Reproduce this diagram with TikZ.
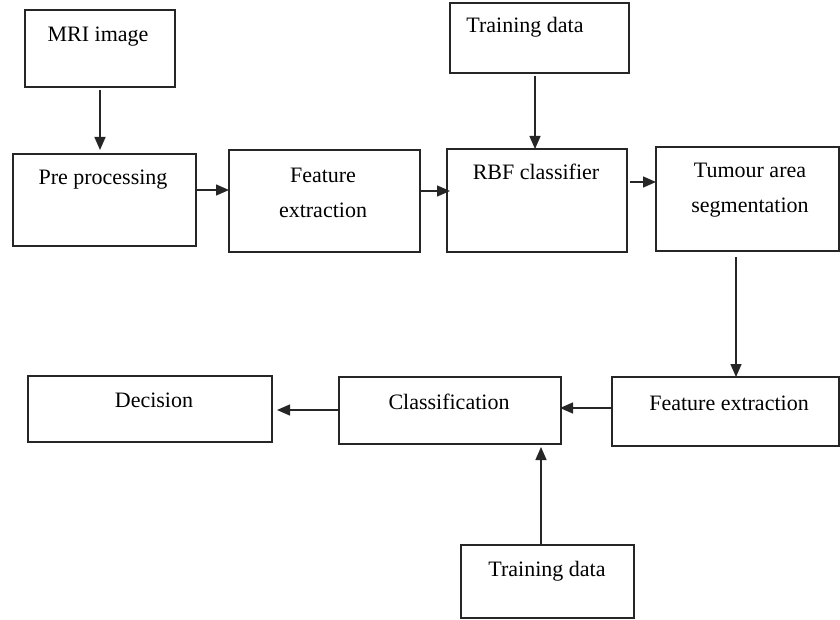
\documentclass[tikz,border=0pt]{standalone}
\usepackage{fontspec}
\setmainfont{Liberation Serif}
\usetikzlibrary{arrows.meta}
\begin{document}
\begin{tikzpicture}[x=0.5pt,y=-0.5pt,
  box/.style={draw=black!85, line width=0.9pt, rectangle, inner sep=0pt, outer sep=0pt},
  lbl/.style={anchor=base, inner sep=0pt, font=\fontsize{11}{13}\selectfont},
  arr/.style={draw=black!85, line width=0.7pt, -{Triangle[length=6.5pt,width=5.5pt]}}]
\useasboundingbox (0,0) rectangle (840,620);
% boxes
\node[box, minimum width=75pt, minimum height=38.5pt] (mri) at (100,48.5) {};
\node[box, minimum width=91.5pt, minimum height=46pt] (pre) at (104.5,200) {};
\node[box, minimum width=95.5pt, minimum height=51pt] (feat) at (324.5,201) {};
\node[box, minimum width=89.5pt, minimum height=35pt] (trainA) at (539.5,38) {};
\node[box, minimum width=90pt, minimum height=51.5pt] (rbf) at (537,200.5) {};
\node[box, minimum width=91.5pt, minimum height=52pt] (tum) at (747.5,199) {};
\node[box, minimum width=122pt, minimum height=33pt] (dec) at (150,409) {};
\node[box, minimum width=111pt, minimum height=33.5pt] (cls) at (450,410.5) {};
\node[box, minimum width=113.5pt, minimum height=34.5pt] (feB) at (725.5,411.5) {};
\node[box, minimum width=86.5pt, minimum height=36.5pt] (trainB) at (547.5,581.5) {};
% texts
\node[lbl] (tmri) at (98,42) {MRI image};
\node[lbl] (tpre) at (103,185) {Pre processing};
\node[lbl] (tfeat1) at (323,183) {Feature};
\node[lbl] (tfeat2) at (323,218) {extraction};
\node[lbl] (ttrainA) at (525,33) {Training data};
\node[lbl] (trbf) at (536,180) {RBF classifier};
\node[lbl] (ttum1) at (750,178) {Tumour area};
\node[lbl] (ttum2) at (750,213) {segmentation};
\node[lbl] (tdec) at (154,407) {Decision};
\node[lbl] (tcls) at (449,409) {Classification};
\node[lbl] (tfeB) at (729,410) {Feature extraction};
\node[lbl] (ttrainB) at (547,576) {Training data};
% arrows
\draw[arr] ([yshift=-1.5pt]mri.south -| 100,0) -- ([yshift=2pt]pre.north -| 100,0);
\draw[arr] (pre.east |- 0,190) -- (feat.west |- 0,190);
\draw[arr] (feat.east |- 0,191) -- ([xshift=1.5pt]rbf.west |- 0,191);
\draw[arr] ([yshift=-1.5pt]trainA.south -| 535,0) -- (rbf.north -| 535,0);
\draw[arr] ([xshift=1.5pt]rbf.east |- 0,182) -- (tum.west |- 0,182);
\draw[arr] ([yshift=-3pt]tum.south -| 736,0) -- (feB.north -| 736,0);
\draw[arr] (feB.west |- 0,408) -- ([xshift=-0.5pt]cls.east |- 0,408);
\draw[arr] (cls.west |- 0,410) -- ([xshift=2.5pt]dec.east |- 0,410);
\draw[arr] (trainB.north -| 541,0) -- ([yshift=-1.5pt]cls.south -| 541,0);
\end{tikzpicture}
\end{document}
